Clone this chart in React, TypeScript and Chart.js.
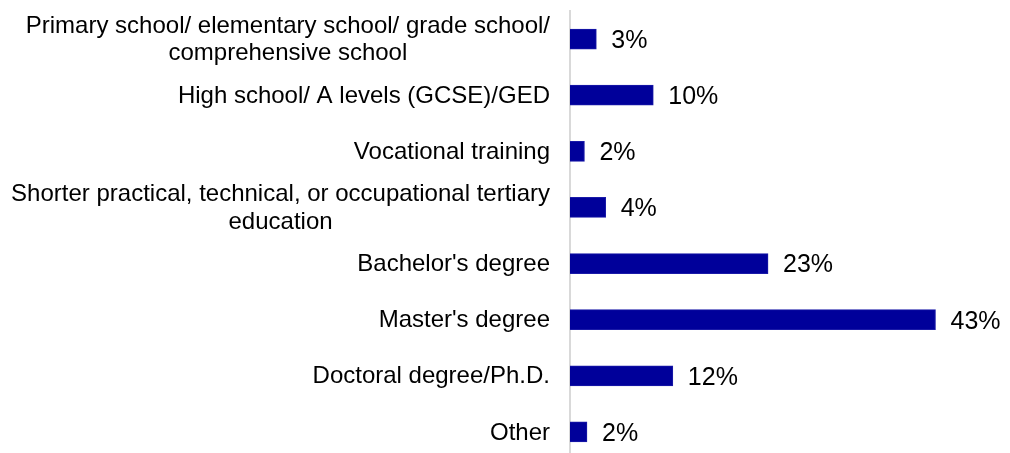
import React, { useEffect, useRef } from "react";
import { Chart, registerables } from "chart.js";

Chart.register(...registerables);

const categories: (string | string[])[] = [
  ["Primary school/ elementary school/ grade school/", "comprehensive school"],
  "High school/ A levels (GCSE)/GED",
  "Vocational training",
  ["Shorter practical, technical, or occupational tertiary", "education"],
  "Bachelor's degree",
  "Master's degree",
  "Doctoral degree/Ph.D.",
  "Other",
];

const values: number[] = [3.1, 9.8, 1.7, 4.2, 23.3, 43.0, 12.1, 2.0];
const valueLabels: string[] = ["3%", "10%", "2%", "4%", "23%", "43%", "12%", "2%"];

const FONT = "'Liberation Sans', Arial, sans-serif";
const CAT_SIZE = 24;
const VAL_SIZE = 25;
const LINE_H = 27.5;

const labelPlugin = {
  id: "customLabels",
  afterDatasetsDraw(chart: any) {
    const ctx = chart.ctx;
    const yScale = chart.scales.y;
    const meta = chart.getDatasetMeta(0);
    ctx.save();
    // category labels
    ctx.fillStyle = "#000000";
    ctx.font = `${CAT_SIZE}px ${FONT}`;
    ctx.textBaseline = "middle";
    ctx.textAlign = "center";
    const rightEdge = chart.chartArea.left - 20;
    categories.forEach((cat, i) => {
      const lines = Array.isArray(cat) ? cat : [cat];
      const maxW = Math.max(...lines.map((l) => ctx.measureText(l).width));
      const cx = rightEdge - maxW / 2;
      const cy = yScale.getPixelForTick(i);
      const start = cy - ((lines.length - 1) * LINE_H) / 2;
      lines.forEach((l, j) => {
        ctx.fillText(l, cx, start + j * LINE_H + 1);
      });
    });
    // value labels
    ctx.font = `${VAL_SIZE}px ${FONT}`;
    ctx.textAlign = "left";
    meta.data.forEach((bar: any, i: number) => {
      ctx.fillText(valueLabels[i], bar.x + 15, bar.y + 2);
    });
    ctx.restore();
  },
};

export default function App() {
  const ref = useRef<HTMLCanvasElement>(null);
  useEffect(() => {
    if (!ref.current) return;
    const chart = new Chart(ref.current, {
      type: "bar",
      data: {
        labels: categories as any,
        datasets: [
          {
            data: values,
            backgroundColor: "#00009a",
            borderColor: "#1a1aa8",
            borderWidth: 1,
            barThickness: 20,
          },
        ],
      },
      options: {
        indexAxis: "y",
        animation: false,
        responsive: false,
        maintainAspectRatio: false,
        layout: { padding: { top: 11, bottom: 10, left: 0, right: 15 } },
        plugins: { legend: { display: false }, tooltip: { enabled: false } },
        scales: {
          x: { display: false, min: 0, max: 50 },
          y: {
            grid: { display: false },
            border: { display: true, color: "#d9d9d9", width: 2 },
            ticks: { display: false },
            afterFit(scale: any) {
              scale.width = 570;
            },
          },
        },
      },
      plugins: [labelPlugin],
    });
    return () => chart.destroy();
  }, []);
  return (
    <div
      style={{
        position: "absolute",
        left: 0,
        top: 0,
        width: 1010,
        height: 453,
        overflow: "hidden",
        background: "#ffffff",
      }}
    >
      <canvas ref={ref} width={1010} height={470} style={{ display: "block" }} />
    </div>
  );
}
